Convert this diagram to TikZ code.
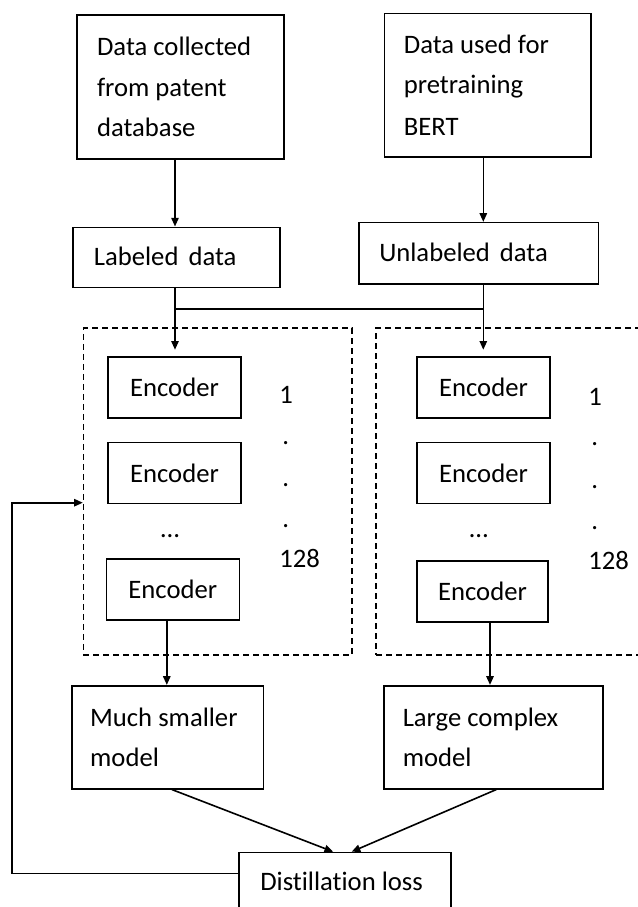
\documentclass[tikz,border=0pt]{standalone}
\usepackage{fontspec}
\setmainfont{Carlito}[Ligatures=NoCommon]
\usetikzlibrary{arrows.meta,calc}
\begin{document}
\begin{tikzpicture}[x=0.75pt,y=-0.75pt,
  box/.style={draw,line width=1.2pt,inner sep=0pt},
  txt/.style={inner sep=0pt,anchor=base west},
  arr/.style={line width=1.2pt,-{Triangle[length=6.5pt,width=5.5pt]}},
  ln/.style={line width=1.2pt},
  dbox/.style={draw,line width=0.9pt,dash pattern=on 4.5pt off 3pt,inner sep=0pt},
  font=\fontsize{20pt}{30.75pt}\selectfont]
\clip (0,0) rectangle (638,907);
\fill[white] (0,0) rectangle (638,907);

% top boxes
\node[box,minimum width=155.25pt,minimum height=108pt] (A) at (180.5,87) {};
\node[txt] (a1) at (96.8,55) {Data collected};
\node[txt] (a2) at (96.8,96) {from patent};
\node[txt] (a3) at (96.8,136.7) {database};

\node[box,minimum width=154.65pt,minimum height=107.8pt] (B) at (487.6,85.2) {};
\node[txt] (b1) at (403.6,53.3) {Data used for};
\node[txt] (b2) at (403.6,93.3) {pretraining};
\node[txt] (b3) at (403.6,135) {BERT};

% data boxes
\node[box,minimum width=155.1pt,minimum height=45pt] (C) at (176.6,257.3) {};
\node[txt] (c1) at (93.6,265) {Labeled\hspace{0.15em} data};
\node[box,minimum width=179.8pt,minimum height=46pt] (D) at (478.65,253.35) {};
\node[txt] (d1) at (379,261) {Unlabeled\hspace{0.15em} data};

% dashed containers
\node[dbox,minimum width=201.45pt,minimum height=245.25pt] (DL) at (217.7,491.5) {};
\node[dbox,minimum width=213pt,minimum height=245.25pt] (DR) at (518,491.5) {};

% encoders
\tikzset{enc/.style={box,minimum width=99.75pt,minimum height=45.75pt}}
\node[enc] (E1) at (174.5,387.7) {Encoder};
\node[enc] (E2) at (174.5,473) {Encoder};
\node[enc] (E3) at (172.8,589.35) {Encoder};
\node[enc] (F1) at (483.5,387.7) {Encoder};
\node[enc] (F2) at (483.5,473) {Encoder};
\node[enc,minimum width=98.25pt] (F3) at (482.5,591.35) {Encoder};

\node[inner sep=0pt,anchor=base] (el) at (170,537) {…};
\node[inner sep=0pt,anchor=base] (er) at (478.9,537) {…};

% numbering
\node[txt] (n1) at (279,403.3) {1};
\node[txt] (n2) at (282,444) {.};
\node[txt] (n3) at (282,486) {.};
\node[txt] (n4) at (282,527) {.};
\node[txt] (n5) at (279,567.3) {128};
\node[txt] (m1) at (588,405) {1};
\node[txt] (m2) at (591,445.5) {.};
\node[txt] (m3) at (591,488) {.};
\node[txt] (m4) at (591,529) {.};
\node[txt] (m5) at (588,569.3) {128};

% model boxes
\node[box,minimum width=143.7pt,minimum height=77.25pt] (M) at (167.8,737.2) {};
\node[txt] (mt1) at (89.9,726) {Much smaller};
\node[txt] (mt2) at (89.9,766) {model};
\node[box,minimum width=164.1pt,minimum height=77.25pt] (L) at (493.4,737.2) {};
\node[txt] (lt1) at (402.5,726) {Large complex};
\node[txt] (lt2) at (402.5,766) {model};

% distillation loss
\node[box,minimum width=158.8pt,minimum height=58.1pt] (G) at (345.15,891.25) {};
\node[txt] (g1) at (260,890) {Distillation loss};

% connectors
\coordinate (xl) at (175,0);
\coordinate (xr) at (483.3,0);
\coordinate (jl) at (175,309);
\coordinate (jr) at (483.3,309);
\draw[arr] (A.south -| xl) -- (C.north -| xl);
\draw[arr] (B.south -| xr) -- (D.north -| xr);
\draw[arr,shorten >=5pt] (C.south -| xl) -- (E1.north -| xl);
\draw[arr,shorten >=5pt] (D.south -| xr) -- (F1.north -| xr);
\draw[ln] (jl) -- (jr);

\coordinate (yl) at (166.8,0);
\coordinate (yr) at (490,0);
\draw[arr] (E3.south -| yl) -- (M.north -| yl);
\draw[arr] (F3.south -| yr) -- (L.north -| yr);

\draw[arr] ($(M.south)+(4,0)$) -- ($(G.north)+(-12,0)$);
\draw[arr] ($(L.south)+(3,0)$) -- ($(G.north)+(6.5,0)$);

\coordinate (fbb) at (12,873.3);
\coordinate (fbt) at (12,502.7);
\draw[arr] (G.west |- fbb) -- (fbb) -- (fbt) -- (DL.west |- fbt);
\end{tikzpicture}
\end{document}
